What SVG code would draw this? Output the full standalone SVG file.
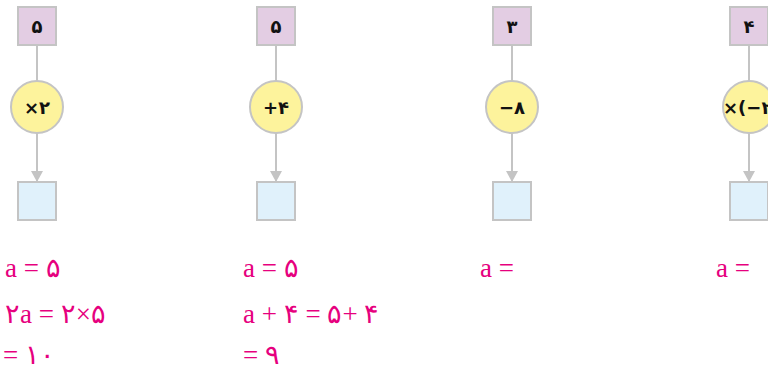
<svg xmlns="http://www.w3.org/2000/svg" width="768" height="372" viewBox="0 0 768 372">
<style>
.in{fill:#e3cde3;stroke:#c4c4c4;stroke-width:2}
.op{fill:#fdf39c;stroke:#c4c4c4;stroke-width:2}
.out{fill:#e0f1fb;stroke:#c4c4c4;stroke-width:2}
.ln{stroke:#c4c4c4;stroke-width:2;fill:none}
.t{font-family:"DejaVu Sans",sans-serif;font-size:18px;font-weight:bold;fill:#111;text-anchor:middle}
.m{font-family:"Liberation Serif","DejaVu Serif",serif;font-size:27px;fill:#e6007e}
</style>
<defs>
<marker id="ah" markerWidth="12" markerHeight="12" refX="10" refY="6" orient="auto" markerUnits="userSpaceOnUse">
<path d="M0,0 L11,6 L0,12 Z" fill="#c4c4c4"/>
</marker>
</defs>
<g id="connectors">
<line class="ln" x1="37" y1="45" x2="37" y2="81"/>
<line class="ln" x1="37" y1="133" x2="37" y2="181" marker-end="url(#ah)"/>
<line class="ln" x1="276" y1="45" x2="276" y2="81"/>
<line class="ln" x1="276" y1="133" x2="276" y2="181" marker-end="url(#ah)"/>
<line class="ln" x1="512" y1="45" x2="512" y2="81"/>
<line class="ln" x1="512" y1="133" x2="512" y2="181" marker-end="url(#ah)"/>
<line class="ln" x1="749" y1="45" x2="749" y2="81"/>
<line class="ln" x1="749" y1="133" x2="749" y2="181" marker-end="url(#ah)"/>
</g>
<g id="in1"><rect class="in" x="18" y="7" width="38" height="38"/><text class="t" x="37" y="33">۵</text></g>
<g id="op1"><circle class="op" cx="37" cy="107" r="26"/><text class="t" x="37" y="114">×۲</text></g>
<g id="out1"><rect class="out" x="18" y="182" width="38" height="38"/></g>
<g id="in2"><rect class="in" x="257" y="7" width="38" height="38"/><text class="t" x="276" y="33">۵</text></g>
<g id="op2"><circle class="op" cx="276" cy="107" r="26"/><text class="t" x="276" y="114">+۴</text></g>
<g id="out2"><rect class="out" x="257" y="182" width="38" height="38"/></g>
<g id="in3"><rect class="in" x="493" y="7" width="38" height="38"/><text class="t" x="512" y="33">۳</text></g>
<g id="op3"><circle class="op" cx="512" cy="107" r="26"/><text class="t" x="512" y="114">−۸</text></g>
<g id="out3"><rect class="out" x="493" y="182" width="38" height="38"/></g>
<g id="in4"><rect class="in" x="730" y="7" width="38" height="38"/><text class="t" x="749" y="33">۴</text></g>
<g id="op4"><circle class="op" cx="749" cy="107" r="26"/><text class="t" x="723" y="114" style="text-anchor:start">×(−۲</text></g>
<g id="out4"><rect class="out" x="730" y="182" width="38" height="38"/></g>
<g id="eq1">
<text class="m" x="5" y="277">a = ۵</text>
<text class="m" x="5" y="323">۲a = ۲×۵</text>
<text class="m" x="3" y="364">= ۱۰</text>
</g>
<g id="eq2">
<text class="m" x="243" y="277">a = ۵</text>
<text class="m" x="243" y="323">a + ۴ = ۵+ ۴</text>
<text class="m" x="243" y="364">= ۹</text>
</g>
<g id="eq3"><text class="m" x="480" y="277">a =</text></g>
<g id="eq4"><text class="m" x="716" y="277">a =</text></g>
</svg>
